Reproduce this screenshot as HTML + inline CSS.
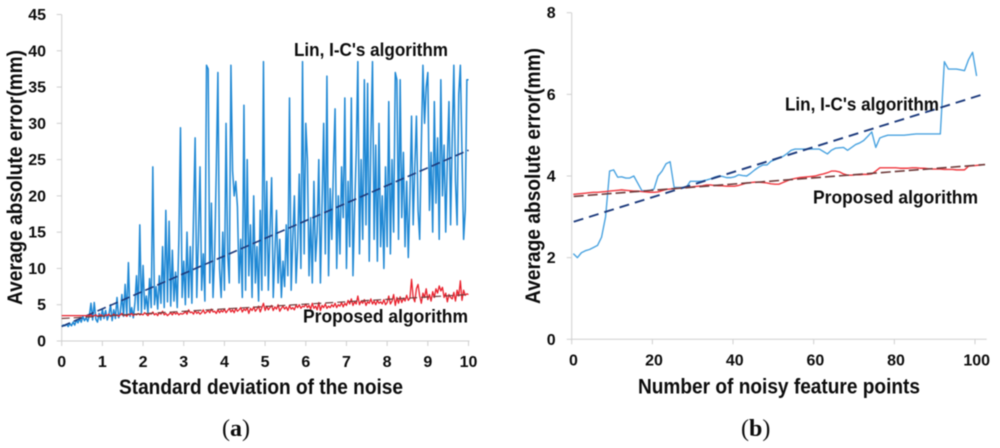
<!DOCTYPE html>
<html lang="en">
<head>
<meta charset="utf-8">
<title>Average absolute error charts</title>
<style>
html,body{margin:0;padding:0;background:#fff;width:1000px;height:448px;overflow:hidden}
svg{display:block;filter:blur(.45px)}
text{font-family:"Liberation Sans",sans-serif;font-weight:700;fill:#0c0c0c}
.tick{font-size:16px}
.title{font-size:21px}
.note{font-size:18.5px}
.cap{font-family:"Liberation Serif",serif;font-size:24px;font-weight:400}
.cap tspan{font-weight:700}
</style>
</head>
<body>
<svg id="figure" width="1000" height="448" viewBox="0 0 1000 448" xmlns="http://www.w3.org/2000/svg">
  <g id="chartA"></g>
  <g id="chartB"></g>

  <text class="title" transform="translate(22,305) rotate(-90)" textLength="255" lengthAdjust="spacingAndGlyphs">Average absolute error(mm)</text>
  <text class="title" x="119" y="394" textLength="284" lengthAdjust="spacingAndGlyphs">Standard deviation of the noise</text>
  <text class="note" x="294" y="56" textLength="154" lengthAdjust="spacingAndGlyphs">Lin, I-C's algorithm</text>
  <text class="note" x="303" y="322.5" textLength="165" lengthAdjust="spacingAndGlyphs">Proposed algorithm</text>
  <text class="cap" x="222" y="436">(<tspan>a</tspan>)</text>

  <text class="title" transform="translate(540,304) rotate(-90)" textLength="256" lengthAdjust="spacingAndGlyphs">Average absolute error(mm)</text>
  <text class="title" x="638" y="393.5" textLength="282" lengthAdjust="spacingAndGlyphs">Number of noisy feature points</text>
  <text class="note" x="785" y="110.5" textLength="154" lengthAdjust="spacingAndGlyphs">Lin, I-C's algorithm</text>
  <text class="note" x="813" y="203.5" textLength="165" lengthAdjust="spacingAndGlyphs">Proposed algorithm</text>
  <text class="cap" x="741" y="436">(<tspan>b</tspan>)</text>
</svg>

<script>
// Chart (a) data: samples are evenly spaced across the noise range
const aXTicks = [0,1,2,3,4,5,6,7,8,9,10];
const aYTicks = [0,5,10,15,20,25,30,35,40,45];
const aSampleStep = [0.04];
const aLinValues = [
2.0,2.2,2.1,2.3,2.0,2.4,2.1,2.6,2.2,2.9,2.5,3.1,2.6,3.4,2.8,3.2,2.7,3.5,5.2,2.9,5.3,3.0,2.6,3.8,2.9,
4.4,3.1,4.2,2.9,3.6,5.0,2.8,4.3,3.1,6.0,3.2,3.9,6.4,3.4,7.8,3.5,10.8,3.4,4.6,3.2,5.2,9.0,4.2,16,3.9,
10.4,4.4,6.2,3.9,8.6,4.6,24,5.0,7.5,4.4,9.0,5.2,13,4.6,18,5.4,16.5,4.8,12.5,5.5,9.5,4.6,14,29.4,6,
11,5,15,6,13,5.2,17,28,6,14,24,7,12,5.5,38,37.5,8,19,6,12,23.5,37,10,6,15,
7,30,12,8,38,23.5,20,22,18.5,8,14,6,32.5,7,25,9,16,6,20,8,13,5.5,18,7,38.5,
9,22,7,15,22.5,6,12,18,8,14,6,11,7.5,16,9,33.5,7,14,20,8,13,23,10,38.5,12,
30,25,9,17,8,22,11,15,25,8,19,30,12,36.5,9,21,14,24,32,10,20,12,24,17,33.5,
10,22,13,33.5,9,18,26,38.5,12,25,14,36,16,35.5,11,28,38.5,14,27,11,30,13,20,10,24,
13,33,12,25,15,37,36,14,36,17,26,13,22,11.5,20,31,16,24,31,18,14,27,38,30,35,
37,18,26,15,33,19,28,14,36,20,27,15,25,33,16,28,38,22,16,34,38,26,14,18,36,36];
const aProposedValues = [
3.5,3.5,3.5,3.5,3.5,3.5,3.5,3.5,3.5,3.5,3.5,3.5,3.5,3.5,3.5,3.5,3.5,3.5,3.6,3.4,3.5,3.6,3.4,3.5,3.6,
3.5,3.4,3.6,3.5,3.7,3.4,3.5,3.7,3.5,3.6,3.4,3.6,3.8,3.5,3.6,3.4,3.7,3.6,3.8,3.5,3.7,3.6,3.8,3.6,3.7,
3.6,3.9,3.7,3.5,3.8,3.7,4.0,3.6,3.8,3.5,3.9,3.7,4.1,3.6,3.8,3.5,3.7,3.9,3.6,4.0,3.7,3.9,3.6,3.8,3.7,
3.8,4.1,3.7,4.3,3.9,4.0,3.7,4.2,3.8,4.0,3.7,3.9,4.3,3.8,4.0,4.2,3.9,4.4,4.0,4.1,3.8,4.3,3.9,4.2,4.0,
4.4,3.9,4.2,4.5,4.0,4.3,3.9,4.5,4.1,4.3,4.6,4.0,4.4,4.2,4.6,3.8,4.5,4.2,4.7,4.1,4.4,4.8,4.0,4.6,5.2,
4.2,4.8,4.3,4.6,4.9,4.2,4.7,4.4,5.0,4.1,4.5,4.8,4.4,4.7,4.2,4.9,4.4,4.6,4.3,4.9,4.6,5.0,4.5,4.8,4.7,
5.1,4.6,4.9,4.4,5.2,4.5,4.8,4.3,5.3,4.2,4.9,4.6,5.1,4.5,4.8,4.6,5.0,4.7,5.2,4.6,5.0,4.8,5.3,4.7,5.2,
4.9,5.6,5.1,5.8,4.9,5.4,5.1,6.2,5.0,5.5,5.2,5.7,4.9,5.4,5.2,5.8,5.1,5.5,5.0,5.6,5.2,5.4,5.1,5.7,5.0,
5.3,6.2,5.1,5.5,6.4,4.9,6.0,5.2,6.1,5.3,5.9,5.5,6.3,5.6,5.9,8.5,6.0,5.4,7.2,7.8,6.2,5.2,6.6,6.0,7.2,
5.7,6.4,5.5,6.8,6.0,7.2,6.6,7.6,6.9,7.4,6.0,6.6,5.4,6.4,6.0,5.8,6.7,5.5,7.0,6.2,8.3,5.6,7.0,6.3,6.5,6.4];
const aLinTrend = [2.0,26.3];
const aProposedTrend = [3.1,6.4];

// Chart (b) data: one value per number of noisy feature points
const bXTicks = [0,20,40,60,80,100];
const bYTicks = [0,2,4,6,8];
const bLinValues = [
2.1,2.0,2.12,2.17,2.2,2.25,2.3,2.5,3.0,4.12,4.15,3.97,3.98,3.95,3.95,4.0,3.82,3.64,3.64,3.65,
3.68,4.0,4.12,4.3,4.35,3.72,3.72,3.72,3.72,3.87,3.87,3.87,3.88,3.9,3.93,3.97,4.0,3.99,3.96,3.96,
3.98,4.03,4.01,4.0,4.07,4.15,4.22,4.27,4.27,4.36,4.4,4.44,4.48,4.55,4.63,4.66,4.66,4.66,4.66,4.66,
4.66,4.66,4.6,4.54,4.63,4.68,4.69,4.7,4.63,4.7,4.77,4.81,4.87,4.97,5.08,4.7,4.93,4.97,5.0,5.0,
5.0,5.0,5.0,5.01,5.02,5.03,5.03,5.03,5.03,5.03,5.03,5.03,6.8,6.62,6.62,6.62,6.6,6.58,6.85,7.03,6.45];
const bProposedValues = [
3.55,3.56,3.57,3.58,3.59,3.6,3.6,3.61,3.62,3.63,3.64,3.65,3.66,3.65,3.64,3.63,3.63,3.62,3.61,3.6,
3.6,3.61,3.64,3.67,3.68,3.69,3.7,3.71,3.72,3.73,3.74,3.75,3.76,3.78,3.78,3.77,3.76,3.76,3.75,3.75,
3.75,3.77,3.8,3.83,3.84,3.85,3.85,3.84,3.83,3.81,3.8,3.8,3.84,3.88,3.92,3.94,3.96,3.97,3.98,3.99,
4.0,4.03,4.05,4.08,4.12,4.12,4.1,4.05,4.02,4.02,4.03,4.03,4.04,4.04,4.05,4.12,4.2,4.2,4.2,4.2,
4.2,4.19,4.19,4.19,4.2,4.2,4.19,4.19,4.18,4.17,4.17,4.17,4.16,4.16,4.16,4.15,4.15,4.15,4.24,4.25,
4.26,4.27,4.28];
const bLinTrend = [2.88,6.0];
const bProposedTrend = [3.5,4.28];

const NS = 'http://www.w3.org/2000/svg';
const AXIS_COLOR = '#cfcfcf';
const BLUE = '#1f88d4';
const RED = '#e9202c';
const NAVY = '#1c3a7c';
const BROWN = '#6f3b3b';

// Axis functions
function linear(d0, d1, r0, r1) {
  return function (v) { return r0 + (v - d0) * (r1 - r0) / (d1 - d0); };
}
const aX = linear(0, 10, 61.7, 468.5);
const aY = linear(0, 45, 341, 14.5);
const bX = linear(0, 100, 571.7, 975);
const bY = linear(0, 8, 339.3, 12.7);

function svgEl(tag, parent) {
  const el = document.createElementNS(NS, tag);
  parent.appendChild(el);
  return el;
}
function pathFrom(values, xOf, yFn) {
  let d = '';
  for (let i = 0; i < values.length; i++) {
    d += (i ? 'L' : 'M') + xOf(i).toFixed(2) + ' ' + yFn(values[i]).toFixed(2);
  }
  return d;
}
function drawAxes(group, prefix, xScale, yScale, xTicks, yTicks, xStart, xEnd, labelEnd, labelBase, labelShift) {
  const axisY = yScale(yTicks[0]);
  const axisX = xScale(xTicks[0]);

  const xAxis = svgEl('line', group);
  
  
  xAxis.setAttribute('x1', xStart);
  xAxis.setAttribute('x2', xEnd);
  xAxis.setAttribute('y1', axisY);
  xAxis.setAttribute('y2', axisY);
  xAxis.setAttribute('stroke', AXIS_COLOR);
  xAxis.setAttribute('stroke-width', '1');

  const yAxis = svgEl('line', group);
  
  
  yAxis.setAttribute('x1', axisX);
  yAxis.setAttribute('x2', axisX);
  yAxis.setAttribute('y1', axisY);
  yAxis.setAttribute('y2', yScale(yTicks[yTicks.length - 1]));
  yAxis.setAttribute('stroke', AXIS_COLOR);
  yAxis.setAttribute('stroke-width', '1');

  xTicks.forEach(function (t) {
    const mark = svgEl('line', group);
    
    
    mark.setAttribute('x1', xScale(t));
    mark.setAttribute('x2', xScale(t));
    mark.setAttribute('y1', axisY);
    mark.setAttribute('y2', axisY + 5);
    mark.setAttribute('stroke', AXIS_COLOR);

    const label = svgEl('text', group);
    
    
    label.setAttribute('class', 'tick');
    label.setAttribute('x', xScale(t) + labelShift);
    label.setAttribute('y', labelBase);
    label.setAttribute('text-anchor', 'middle');
    label.textContent = t;
  });

  yTicks.forEach(function (t) {
    const mark = svgEl('line', group);
    
    
    mark.setAttribute('x1', axisX - 5);
    mark.setAttribute('x2', axisX);
    mark.setAttribute('y1', yScale(t));
    mark.setAttribute('y2', yScale(t));
    mark.setAttribute('stroke', AXIS_COLOR);

    const label = svgEl('text', group);
    
    
    label.setAttribute('class', 'tick');
    label.setAttribute('x', labelEnd);
    label.setAttribute('y', yScale(t) + 5.5);
    label.setAttribute('text-anchor', 'end');
    label.textContent = t;
  });
}
function drawSeries(group, name, d, color, width, dash) {
  const p = svgEl('path', group);
  
  
  p.setAttribute('d', d);
  p.setAttribute('fill', 'none');
  p.setAttribute('stroke', color);
  p.setAttribute('stroke-width', width);
  p.setAttribute('stroke-linejoin', 'round');
  if (dash) p.setAttribute('stroke-dasharray', dash);
  return p;
}
function trendPath(trend, x0, x1, xScale, yScale) {
  return 'M' + xScale(x0) + ' ' + yScale(trend[0]) + 'L' + xScale(x1) + ' ' + yScale(trend[1]);
}

// Chart (a)
const gA = document.getElementById('chartA');
drawAxes(gA, 'chart-a', aX, aY, aXTicks, aYTicks, 61.7, 469.5, 46, 367, 0);
const aOf = function (i) { return aX(i * aSampleStep[0]); };
drawSeries(gA, 'chart-a-lin-series', pathFrom(aLinValues, aOf, aY), BLUE, 1.5);
drawSeries(gA, 'chart-a-lin-trendline', trendPath(aLinTrend, 0, 10, aX, aY), NAVY, 1.6, '9 4');
drawSeries(gA, 'chart-a-proposed-series', pathFrom(aProposedValues, aOf, aY), RED, 1.3);
drawSeries(gA, 'chart-a-proposed-trendline', trendPath(aProposedTrend, 0, 10, aX, aY), BROWN, 1.2, '8 4');

// Chart (b)
const gB = document.getElementById('chartB');
drawAxes(gB, 'chart-b', bX, bY, bXTicks, bYTicks, 571.7, 986.7, 555.7, 365.7, 1.7);
const bOf = function (i) { return bX(i + 0.4); };
drawSeries(gB, 'chart-b-lin-series', pathFrom(bLinValues, bOf, bY), '#4aa3e0', 1.4);
drawSeries(gB, 'chart-b-proposed-series', pathFrom(bProposedValues, bOf, bY), '#f0383f', 1.4);
drawSeries(gB, 'chart-b-lin-trendline', trendPath(bLinTrend, 0.5, 102, bX, bY), NAVY, 1.9, '10 6');
drawSeries(gB, 'chart-b-proposed-trendline', trendPath(bProposedTrend, 0.5, 102.5, bX, bY), BROWN, 1.6, '10 4');
</script>
</body>
</html>
